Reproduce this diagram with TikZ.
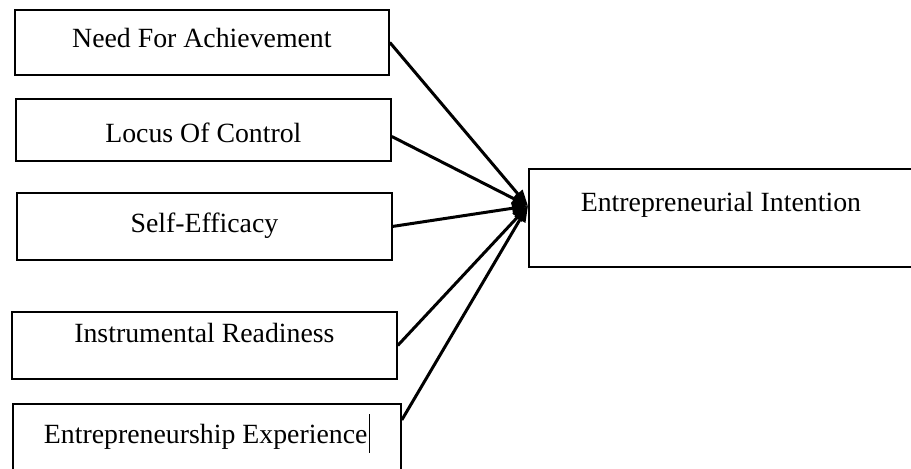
\documentclass[tikz,border=0pt]{standalone}
\usepackage{fontspec}
\setmainfont{Liberation Serif}
\usetikzlibrary{arrows.meta}

\tikzset{
  factor/.style={draw,line width=0.9pt,anchor=north west,inner sep=0pt},
  factortext/.style={inner sep=0pt,text height=10pt,text depth=3pt,font=\fontsize{13.9}{16}\selectfont},
  link/.style={line width=1.5pt,-{Triangle[length=8pt,width=6pt]}}
}

\begin{document}
\begin{tikzpicture}[x=0.5pt,y=-0.5pt]
  \useasboundingbox (0,0) rectangle (911,468);
  \clip (0,0) rectangle (911,468);
  \fill[white] (0,0) rectangle (911,468);
  % five antecedents on the left, the outcome on the right
  \foreach \n/\x/\y/\w/\h/\dy/\txt in {
    nach/14/9/187pt/32.5pt/0.9pt/{Need For Achievement},
    loc/15/98/187.5pt/31pt/-3pt/{Locus Of Control},
    se/16/192/187.5pt/33.5pt/0.5pt/{Self-Efficacy},
    ir/11/311/192.5pt/33.5pt/4.8pt/{Instrumental Readiness},
    ee/12/403/194pt/40pt/3.5pt/{Entrepreneurship Experience\hspace{0.6pt}\rule[-4.5pt]{0.6pt}{19.5pt}},
    ei/528/168/192pt/49pt/6.65pt/{Entrepreneurial Intention}
  } {
    \node[factor,minimum width=\w,minimum height=\h,
      label={[factortext,yshift=\dy]center:\txt}] (\n) at (\x,\y) {};
  }
  \coordinate (tip) at ([yshift=6pt]ei.west);
  \foreach \n/\a in {nach/east,loc/-2,se/east,ir/east,ee/7}
    \draw[link] (\n.\a) -- (tip);
\end{tikzpicture}
\end{document}
